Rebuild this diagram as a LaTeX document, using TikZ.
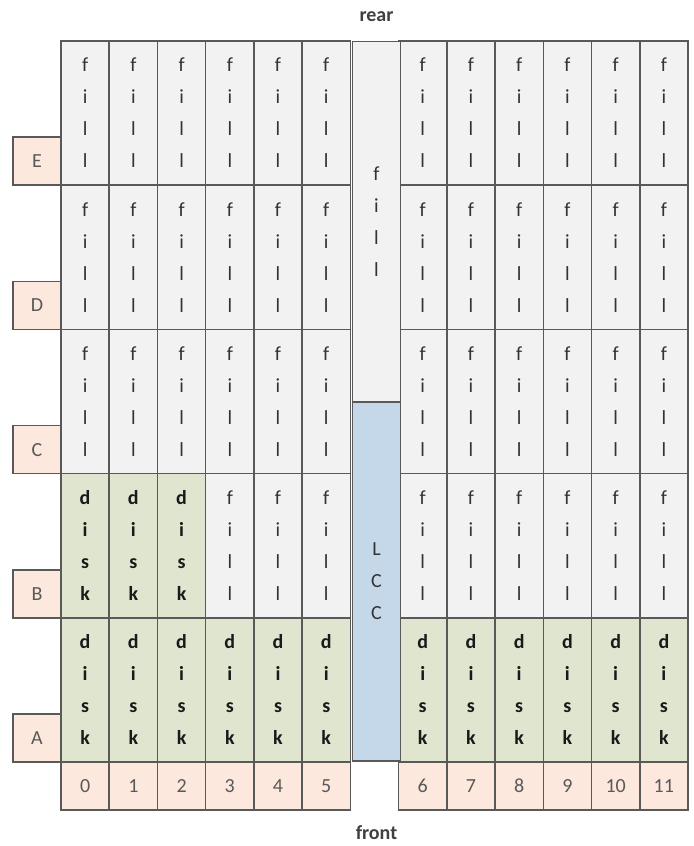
\documentclass[tikz,border=0pt]{standalone}
\usepackage{fontspec}
\setmainfont{Carlito}
\definecolor{fillgrey}{HTML}{F2F2F2}
\definecolor{diskgreen}{HTML}{DFE5CE}
\definecolor{tagpink}{HTML}{FCE8DC}
\definecolor{lccblue}{HTML}{C5D8EA}
\definecolor{gridline}{HTML}{595959}
\begin{document}
\begin{tikzpicture}[x=0.75pt, y=-0.75pt,
    every node/.style={font=\fontsize{15}{24}\selectfont, inner sep=0pt, outer sep=0pt},
    box/.style={draw=gridline, line width=1.1pt, minimum width=36.17pt, align=center},
    filler/.style={box, fill=fillgrey, minimum height=108.15pt, text=black!80},
    disk/.style={box, fill=diskgreen, minimum height=108.15pt, text=black!90, font=\fontsize{15}{24}\selectfont\bfseries},
    tagbox/.style={box, fill=tagpink, minimum height=36pt, text=black!65},
    side/.style={font=\fontsize{15}{17}\selectfont\bfseries, text=black!75}]
    \useasboundingbox (0,0) rectangle (693,846);
    % rows A..E, slots 0..11, the gap between 5 and 6 is the LCC column
    \foreach \row [count=\r from 0] in {A,B,C,D,E} {
        \node[tagbox] (tag-\row) at (37, {738-144.2*\r}) {\row};
        \foreach \n in {0,...,11} {
            \pgfmathsetmacro\k{\n<6 ? \n : \n+1}
            \pgfmathtruncatemacro\isdisk{(\r==0) || (\r==1 && \n<3)}
            \ifnum\isdisk=1 \def\kind{disk}\def\word{d\\i\\s\\k}%
            \else \def\kind{filler}\def\word{f\\i\\l\\l}\fi
            \node[\kind] (cell-\row-\n) at ({61+48.23*(\k+0.5)}, {689.9-144.2*\r}) {\word};
        }
    }
    \foreach \n in {0,...,11} {
        \pgfmathsetmacro\k{\n<6 ? \n : \n+1}
        \node[tagbox] (slot-\n) at ({61+48.23*(\k+0.5)}, 786) {\n};
    }
    % middle column
    \node[filler, minimum height=270pt] (fill-mid) at (376.5, 221.5) {f\\i\\l\\l};
    \node[box, fill=lccblue, minimum height=269.25pt, text=black!80] (lcc) at (376.5, 581.5) {L\\C\\C};
    \node[side] (rear)  at (376.5, 17)  {rear};
    \node[side] (front) at (376.5, 833) {front};
\end{tikzpicture}
\end{document}
